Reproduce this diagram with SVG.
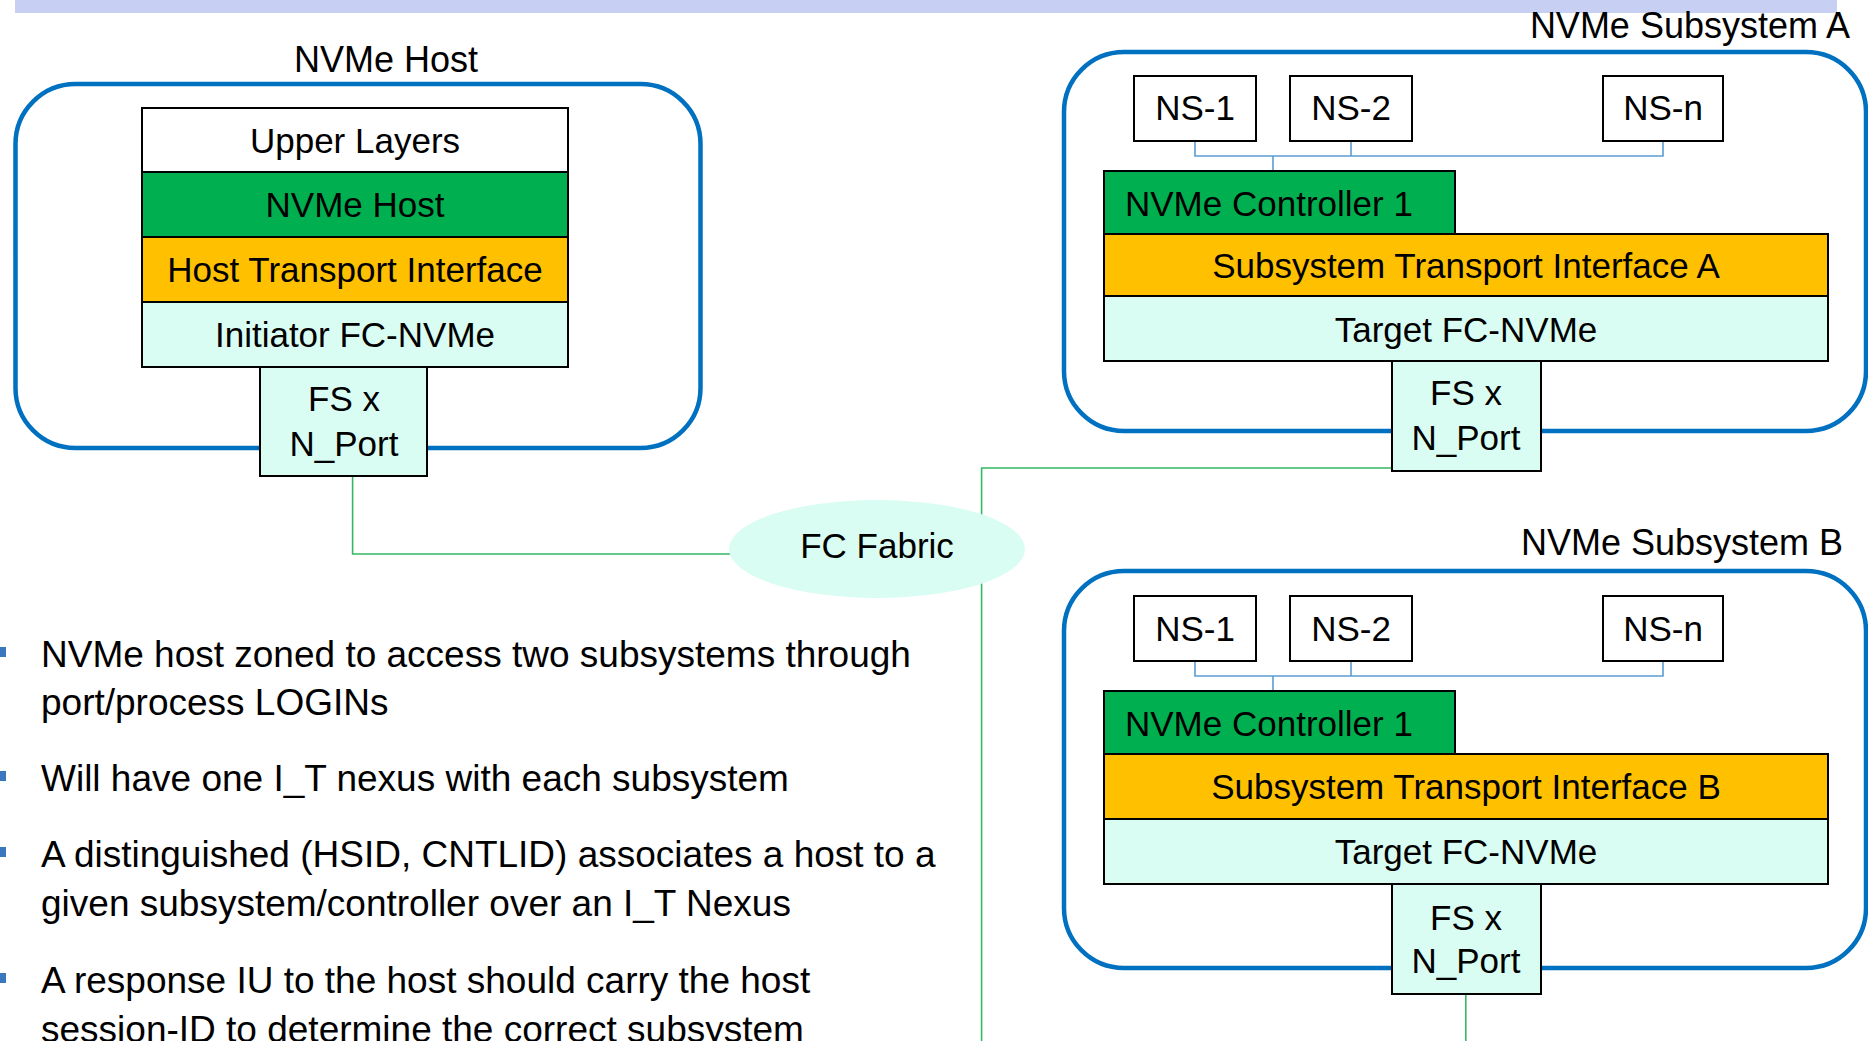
<svg xmlns="http://www.w3.org/2000/svg" width="1868" height="1041" viewBox="0 0 1868 1041">
<style>
  text { font-family: "Liberation Sans", Arial, sans-serif; fill: #000; }
  .lbl { font-size: 35px; }
  .ttl { font-size: 36px; }
  .mid { text-anchor: middle; }
  .bul { font-size: 37px; }
  .frame { fill: none; stroke: #0070c0; stroke-width: 4.5; }
  .box { stroke: #000; stroke-width: 2; }
  .white { fill: #ffffff; }
  .green { fill: #00b050; }
  .orange { fill: #ffc000; }
  .mint { fill: #d9fdf2; }
  .link { fill: none; stroke: #33b864; stroke-width: 1.6; }
  .nsl { fill: none; stroke: #5b9bd5; stroke-width: 1.6; }
  .dot { fill: #3a77bf; }
</style>
<rect x="0" y="0" width="1868" height="1041" fill="#ffffff"/>
<rect id="topbar" x="15" y="0" width="1822" height="13" fill="#c7d0f3"/>

<g id="connectors">
  <polyline class="link" points="352.6,476 352.6,554 740,554"/>
  <polyline class="link" points="1392,468 981.6,468 981.6,1041"/>
  <line class="link" x1="1465.8" y1="994" x2="1465.8" y2="1041"/>
  <polyline class="nsl" points="1195,141 1195,156 1663,156 1663,141"/>
  <line class="nsl" x1="1351" y1="141" x2="1351" y2="156"/>
  <line class="nsl" x1="1273" y1="156" x2="1273" y2="171"/>
  <polyline class="nsl" points="1195,661 1195,676 1663,676 1663,661"/>
  <line class="nsl" x1="1351" y1="661" x2="1351" y2="676"/>
  <line class="nsl" x1="1273" y1="676" x2="1273" y2="691"/>
</g>

<g id="fc-fabric">
  <ellipse cx="877" cy="549" rx="148" ry="49" class="mint"/>
  <text class="lbl mid" x="877" y="558">FC Fabric</text>
</g>

<g id="nvme-host">
  <text class="ttl mid" x="386" y="72">NVMe Host</text>
  <rect class="frame" x="15.5" y="84" width="685" height="364" rx="60" ry="60"/>
  <rect class="box white" x="142" y="108" width="426" height="64"/>
  <text class="lbl mid" x="355" y="153">Upper Layers</text>
  <rect class="box green" x="142" y="172" width="426" height="65"/>
  <text class="lbl mid" x="355" y="217">NVMe Host</text>
  <rect class="box orange" x="142" y="237" width="426" height="65"/>
  <text class="lbl mid" x="355" y="282">Host Transport Interface</text>
  <rect class="box mint" x="142" y="302" width="426" height="65"/>
  <text class="lbl mid" x="355" y="347">Initiator FC-NVMe</text>
  <rect class="box mint" x="260" y="367" width="167" height="109"/>
  <text class="lbl mid" x="344" y="411">FS x</text>
  <text class="lbl mid" x="344" y="456">N_Port</text>
</g>

<g id="subsystem-a">
  <text class="ttl" x="1850" y="38" text-anchor="end">NVMe Subsystem A</text>
  <rect class="frame" x="1064" y="52" width="802" height="379" rx="60" ry="60"/>
  <rect class="box white" x="1134" y="76" width="122" height="65"/>
  <text class="lbl mid" x="1195" y="120">NS-1</text>
  <rect class="box white" x="1290" y="76" width="122" height="65"/>
  <text class="lbl mid" x="1351" y="120">NS-2</text>
  <rect class="box white" x="1603" y="76" width="120" height="65"/>
  <text class="lbl mid" x="1663" y="120">NS-n</text>
  <rect class="box green" x="1104" y="171" width="351" height="63"/>
  <text class="lbl" x="1125" y="216">NVMe Controller 1</text>
  <rect class="box orange" x="1104" y="234" width="724" height="62"/>
  <text class="lbl mid" x="1466" y="278">Subsystem Transport Interface A</text>
  <rect class="box mint" x="1104" y="296" width="724" height="65"/>
  <text class="lbl mid" x="1466" y="342">Target FC-NVMe</text>
  <rect class="box mint" x="1392" y="361" width="149" height="110"/>
  <text class="lbl mid" x="1466" y="405">FS x</text>
  <text class="lbl mid" x="1466" y="450">N_Port</text>
</g>

<g id="subsystem-b">
  <text class="ttl" x="1843" y="555" text-anchor="end">NVMe Subsystem B</text>
  <rect class="frame" x="1064" y="571" width="802" height="397" rx="60" ry="60"/>
  <rect class="box white" x="1134" y="596" width="122" height="65"/>
  <text class="lbl mid" x="1195" y="641">NS-1</text>
  <rect class="box white" x="1290" y="596" width="122" height="65"/>
  <text class="lbl mid" x="1351" y="641">NS-2</text>
  <rect class="box white" x="1603" y="596" width="120" height="65"/>
  <text class="lbl mid" x="1663" y="641">NS-n</text>
  <rect class="box green" x="1104" y="691" width="351" height="63"/>
  <text class="lbl" x="1125" y="736">NVMe Controller 1</text>
  <rect class="box orange" x="1104" y="754" width="724" height="65"/>
  <text class="lbl mid" x="1466" y="799">Subsystem Transport Interface B</text>
  <rect class="box mint" x="1104" y="819" width="724" height="65"/>
  <text class="lbl mid" x="1466" y="864">Target FC-NVMe</text>
  <rect class="box mint" x="1392" y="884" width="149" height="110"/>
  <text class="lbl mid" x="1466" y="930">FS x</text>
  <text class="lbl mid" x="1466" y="973">N_Port</text>
</g>

<g id="bullets">
  <rect class="dot" x="-1" y="647" width="7" height="10"/>
  <text class="bul" x="41" y="667">NVMe host zoned to access two subsystems through</text>
  <text class="bul" x="41" y="715">port/process LOGINs</text>
  <rect class="dot" x="-1" y="771" width="7" height="10"/>
  <text class="bul" x="41" y="791">Will have one I_T nexus with each subsystem</text>
  <rect class="dot" x="-1" y="847" width="7" height="10"/>
  <text class="bul" x="41" y="867">A distinguished (HSID, CNTLID) associates a host to a</text>
  <text class="bul" x="41" y="916">given subsystem/controller over an I_T Nexus</text>
  <rect class="dot" x="-1" y="973" width="7" height="10"/>
  <text class="bul" x="41" y="993">A response IU to the host should carry the host</text>
  <text class="bul" x="41" y="1042">session-ID to determine the correct subsystem</text>
</g>
</svg>
